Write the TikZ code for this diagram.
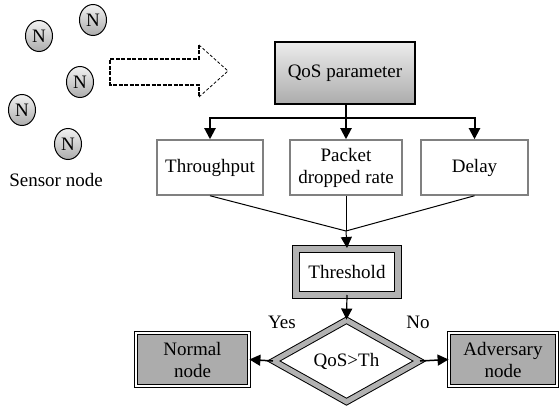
\documentclass[tikz,border=0pt]{standalone}
\usepackage{fontspec}
\setmainfont{Liberation Serif}
\usetikzlibrary{shapes.geometric,arrows.meta,calc,positioning}

\begin{document}
\begin{tikzpicture}[x=1pt, y=-1pt,
        font=\fontsize{19}{22}\selectfont,
        sensor/.style={ellipse, draw=black, line width=1pt, top color=gray!10, bottom color=gray!65,
                       minimum width=27, minimum height=31, inner sep=0pt},
        param/.style={draw=gray, line width=1.5pt, fill=white, align=center,
                      minimum height=55, inner sep=2pt},
        result/.style={draw=black, line width=0.8pt, double=white, double distance=2pt,
                       fill=gray!65, align=center, minimum height=53, inner sep=2pt},
        arr/.style={-{Triangle[length=11pt, width=11pt]}}
    ]
        \useasboundingbox (0,0) rectangle (559,406);

        % Sensor field
        \node[sensor] (n1) at (39,36) {N};
        \node[sensor] (n2) at (93,20) {N};
        \node[sensor] (n3) at (80,82) {N};
        \node[sensor] (n4) at (22,110) {N};
        \node[sensor] (n5) at (68,144) {N};
        \node (sens) at (56,180) {Sensor node};

        % dashed hollow arrow
        \draw[line width=1.8pt, dash pattern=on 4pt off 1.5pt]
            (199,45) -- (199,59) -- (110,59) -- (110,85) -- (199,85) -- (199,97);
        \draw[line width=0.8pt, dash pattern=on 3pt off 2pt]
            (199,97) -- (228,71) -- (199,45);

        % QoS parameter
        \node[draw=black, line width=1.2pt, top color=gray!15, bottom color=gray!65,
              minimum width=140, minimum height=62] (qos) at (345,73) {QoS parameter};

        % parameter boxes
        \node[param, minimum width=106] (thru) at (210,167.5) {Throughput};
        \node[param, minimum width=112] (pkt) at (346,167.5) {Packet\\dropped rate};
        \node[param, minimum width=107] (del) at (474.5,167.5) {Delay};

        % branch
        \coordinate (split) at (346,118);
        \draw[line width=2pt] (qos.south -| split) -- (split);
        \draw[line width=2pt, arr] (split) -| (thru.north);
        \draw[line width=2pt, arr] (split) -- (pkt.north);
        \draw[line width=2pt, arr] (split) -| (del.north);

        % Threshold
        \node[draw=black, line width=1pt, double=gray!60, double distance=6pt,
              minimum width=102, minimum height=46] (thr) at (347,271.5) {Threshold};

        \coordinate (merge) at (346,231);
        \draw[line width=1pt] (thru.south) -- (merge);
        \draw[line width=1pt] (pkt.south) -- (merge);
        \draw[line width=1pt] (del.south) -- (merge);
        \draw[line width=1pt, arr] (merge) -- (thr.north);

        % decision
        \node[diamond, draw=black, line width=1pt, double=gray!60, double distance=5pt,
              minimum width=146, minimum height=78, inner sep=0pt] (dia) at (346.5,361) {QoS>Th};
        \draw[line width=1.2pt, arr] (thr.south) -- (dia.north);

        % outcomes
        \node[result, minimum width=113] (nor) at (192.5,359.5) {Normal\\node};
        \node[result, minimum width=108] (adv) at (503,359.5) {Adversary\\node};
        \draw[line width=1.5pt, arr] (dia.west) -- (nor.east);
        \draw[line width=1.5pt, arr] (dia.east) -- (adv.west);

        \node (yes) at (282,322) {Yes};
        \node (no) at (418,322) {No};

    \end{tikzpicture}
\end{document}
